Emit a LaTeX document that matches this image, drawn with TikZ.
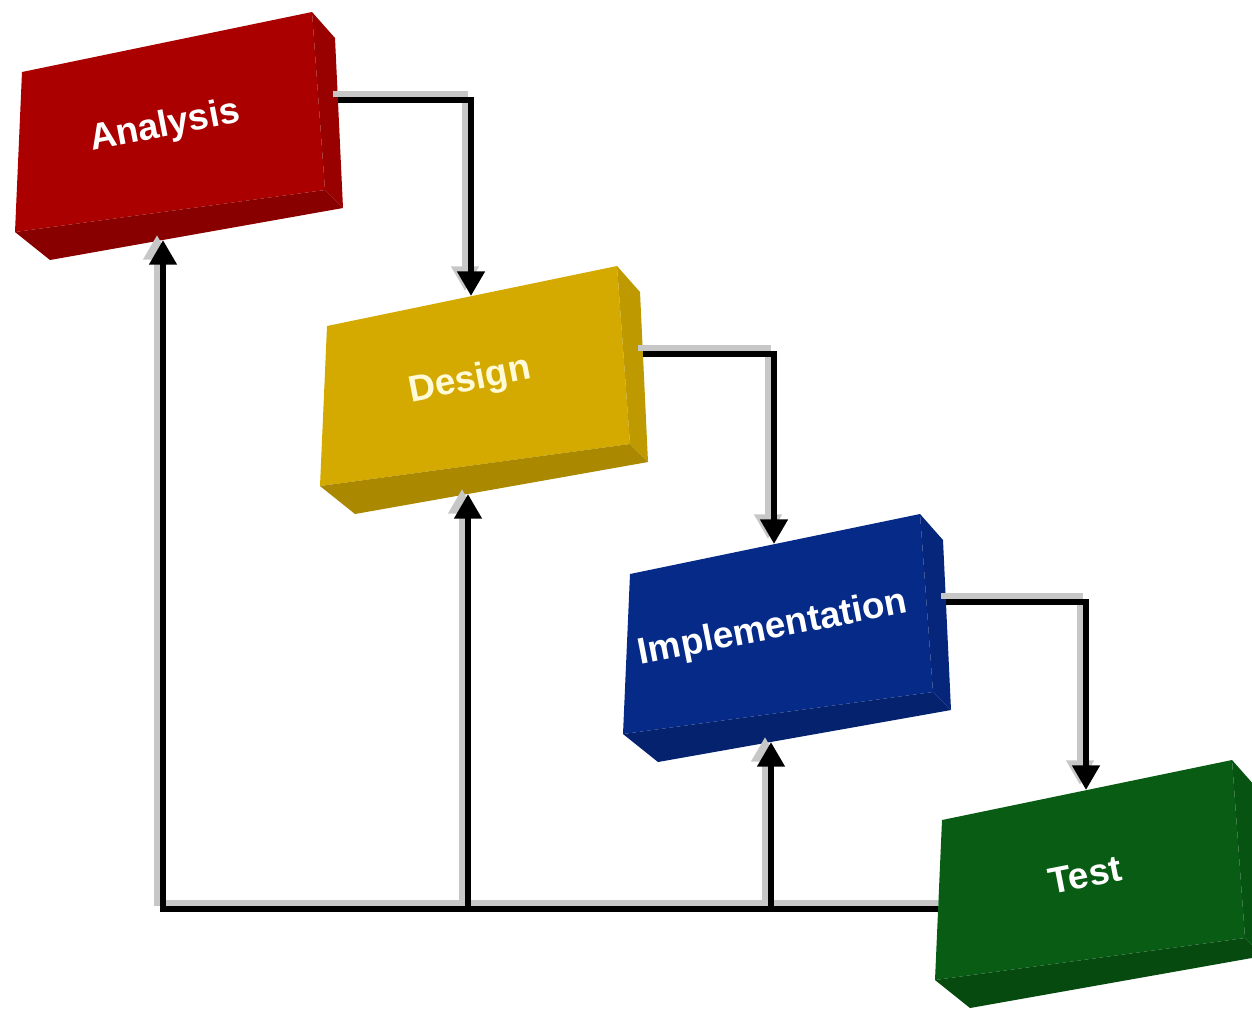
\documentclass[tikz,border=0pt]{standalone}
\usepackage{fontspec}
\setmainfont{Liberation Sans}
\usetikzlibrary{arrows.meta}

\definecolor{anared}{RGB}{170,0,0}
\definecolor{desyellow}{RGB}{212,170,0}
\definecolor{impblue}{RGB}{5,42,136}
\definecolor{testgreen}{RGB}{8,92,20}
\definecolor{cream}{RGB}{255,250,215}

% one slab: name, shift x, shift y, colour, text
\newcommand{\stage}[5]{%
	\begin{scope}[shift={(#2,#3)}]
		\fill[#4] (22,72) -- (312,12) -- (325,190) -- (15,232) -- cycle;
		\fill[#4!90!black] (312,12) -- (335,38) -- (343,208) -- (325,190) -- cycle;
		\fill[#4!80!black] (15,232) -- (325,190) -- (343,208) -- (50,260) -- cycle;
		\node[stagetext] (#1) at (165,127) {#5};
		\coordinate (#1-out) at (338,100);
		\coordinate (#1-top) at (166,42);
		\coordinate (#1-bot) at (163,240);
		\coordinate (#1-left) at (18,161);
	\end{scope}}

\begin{document}
\begin{tikzpicture}[x=0.01cm, y=-0.01cm,
	flow/.style={line width=1.9pt, black},
	shade/.style={line width=1.9pt, black!22},
	tip/.style={-{Triangle[width=7.5pt,length=7pt]}},
	stagetext/.style={text=white, font=\fontsize{10.5}{12}\selectfont\bfseries, rotate=11}]
	\useasboundingbox (0,0) rectangle (1252,1008);
	
	\stage{ana}{0}{0}{anared}{Analysis}
	\stage{des}{305}{254}{desyellow}{\textcolor{cream}{Design}}
	\stage{imp}{608}{502}{impblue}{Implementation}
	\stage{tst}{920}{748}{testgreen}{Test}
	
	% shadows
	\draw[shade,tip] ([shift={(-5,-6)}]ana-out) -| ([shift={(-6,-5)}]des-top);
	\draw[shade,tip] ([shift={(-5,-6)}]des-out) -| ([shift={(-6,-5)}]imp-top);
	\draw[shade,tip] ([shift={(-5,-6)}]imp-out) -| ([shift={(-6,-5)}]tst-top);
	\draw[shade,tip] ([shift={(0,-6)}]tst-left) -| ([shift={(-6,-5)}]ana-bot);
	\draw[shade,tip] ([shift={(-6,-6)}]tst-left -| des-bot) -- ([shift={(-6,-5)}]des-bot);
	\draw[shade,tip] ([shift={(-6,-6)}]tst-left -| imp-bot) -- ([shift={(-6,-5)}]imp-bot);
	
	% forward flow
	\draw[flow,tip] (ana-out) -| (des-top);
	\draw[flow,tip] (des-out) -| (imp-top);
	\draw[flow,tip] (imp-out) -| (tst-top);
	
	% feedback
	\draw[flow,tip] (tst-left) -| (ana-bot);
	\draw[flow,tip] (tst-left -| des-bot) -- (des-bot);
	\draw[flow,tip] (tst-left -| imp-bot) -- (imp-bot);
\end{tikzpicture}
\end{document}
